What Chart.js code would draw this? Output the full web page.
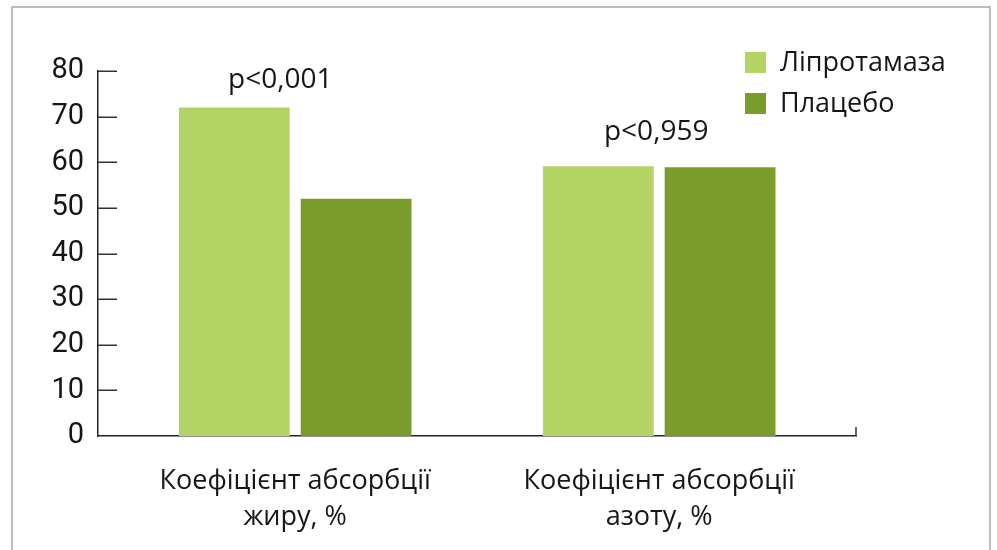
<!DOCTYPE html>
<html lang="uk">
<head>
<meta charset="utf-8">
<title>Коефіцієнт абсорбції</title>
<script src="https://cdn.jsdelivr.net/npm/chart.js@4/dist/chart.umd.min.js"></script>
<style>
  html, body { margin: 0; padding: 0; background: #ffffff; }
  #wrap { position: relative; width: 997px; height: 550px; }
</style>
</head>
<body>
<div id="wrap"><canvas id="chart"></canvas></div>
<script>
// Categories (multi-line axis labels)
const categories = [
  ['Коефіцієнт абсорбції', 'жиру, %'],
  ['Коефіцієнт абсорбції', 'азоту, %']
];
// Series
const seriesNames = ['Ліпротамаза', 'Плацебо'];
const liprotamase = [72, 59.1];
const placebo = [52, 58.9];
// Significance labels above each group
const pValues = ['p<0,001', 'p<0,959'];
// Y axis ticks
const yTicks = [0, 10, 20, 30, 40, 50, 60, 70, 80];

const colors = ['#b3d465', '#7a9c2a'];
const textColor = '#161616';
const axisColor = '#222222';

// Frame around the figure
const framePlugin = {
  id: 'frame',
  beforeDraw(chart) {
    const ctx = chart.ctx;
    ctx.save();
    ctx.fillStyle = '#ffffff';
    ctx.fillRect(0, 0, chart.width, chart.height);
    ctx.strokeStyle = '#a8a8a8';
    ctx.lineWidth = 1.5;
    ctx.strokeRect(12, 7, 978, chart.height + 20);
    ctx.restore();
  }
};

// Inward tick marks on the value axis and closing tick at the end of the category axis
const axisMarksPlugin = {
  id: 'axisMarks',
  afterDraw(chart) {
    const ctx = chart.ctx;
    const y = chart.scales.y;
    const area = chart.chartArea;
    ctx.save();
    ctx.strokeStyle = '#333333';
    ctx.lineWidth = 1.5;
    ctx.beginPath();
    yTicks.forEach(v => {
      if (v === 0) return;
      const py = Math.round(y.getPixelForValue(v)) + 0.25;
      ctx.moveTo(area.left, py);
      ctx.lineTo(area.left + 19, py);
    });
    ctx.moveTo(area.right, area.bottom);
    ctx.lineTo(area.right, area.bottom - 9);
    ctx.stroke();
    ctx.restore();
  }
};

// p-value annotations above each group
const pLabelPlugin = {
  id: 'pLabels',
  afterDatasetsDraw(chart) {
    const ctx = chart.ctx;
    const x = chart.scales.x;
    const y = chart.scales.y;
    const dx = [-15, -3];
    const dy = [20, 26];
    ctx.save();
    ctx.font = '28px "Open Sans"';
    ctx.fillStyle = textColor;
    ctx.textAlign = 'center';
    ctx.textBaseline = 'alphabetic';
    pValues.forEach((t, i) => {
      const top = Math.max(liprotamase[i], placebo[i]);
      ctx.fillText(t, x.getPixelForValue(i) + dx[i], y.getPixelForValue(top) - dy[i]);
    });
    ctx.restore();
  }
};

// Legend drawn inside the plot's upper right corner
const legendPlugin = {
  id: 'cornerLegend',
  afterDraw(chart) {
    const ctx = chart.ctx;
    ctx.save();
    ctx.font = '27px "Open Sans"';
    ctx.textAlign = 'left';
    ctx.textBaseline = 'middle';
    chart.data.datasets.forEach((ds, i) => {
      const top = 52 + i * 41;
      ctx.fillStyle = ds.backgroundColor;
      ctx.fillRect(745, top, 21, 21);
      ctx.fillStyle = textColor;
      ctx.fillText(ds.label, 780, top + 11);
    });
    ctx.restore();
  }
};

const toPoints = arr => arr.map((v, i) => ({ x: i, y: v }));

new Chart(document.getElementById('chart'), {
  type: 'bar',
  data: {
    datasets: [
      { label: seriesNames[0], data: toPoints(liprotamase), backgroundColor: colors[0] },
      { label: seriesNames[1], data: toPoints(placebo), backgroundColor: colors[1] }
    ]
  },
  options: {
    responsive: true,
    maintainAspectRatio: false,
    animation: false,
    layout: { padding: { top: 71, right: 141, bottom: 0, left: 0 } },
    categoryPercentage: 0.669,
    barPercentage: 0.91,
    plugins: {
      legend: { display: false },
      tooltip: { enabled: false }
    },
    scales: {
      x: {
        type: 'linear',
        offset: false,
        min: -0.5418,
        max: 1.5407,
        afterBuildTicks(scale) {
          scale.ticks = categories.map((c, i) => ({ value: i }));
        },
        afterFit(scale) { scale.height = 114; },
        grid: { display: false, drawTicks: false },
        border: { display: true, color: axisColor, width: 1.5 },
        ticks: {
          autoSkip: false,
          maxRotation: 0,
          padding: 27,
          color: textColor,
          font: { family: '"Open Sans"', size: 27, lineHeight: '36px' },
          callback: (v) => categories[v] || ''
        }
      },
      y: {
        min: 0,
        max: 80,
        afterBuildTicks(scale) {
          scale.ticks = yTicks.map(v => ({ value: v }));
        },
        afterFit(scale) { scale.width = 98; },
        grid: { display: false, drawTicks: false },
        border: { display: true, color: axisColor, width: 1.5 },
        ticks: {
          padding: 14,
          color: textColor,
          font: { family: 'Roboto', size: 29 }
        }
      }
    }
  },
  plugins: [framePlugin, axisMarksPlugin, pLabelPlugin, legendPlugin]
});
</script>
</body>
</html>
